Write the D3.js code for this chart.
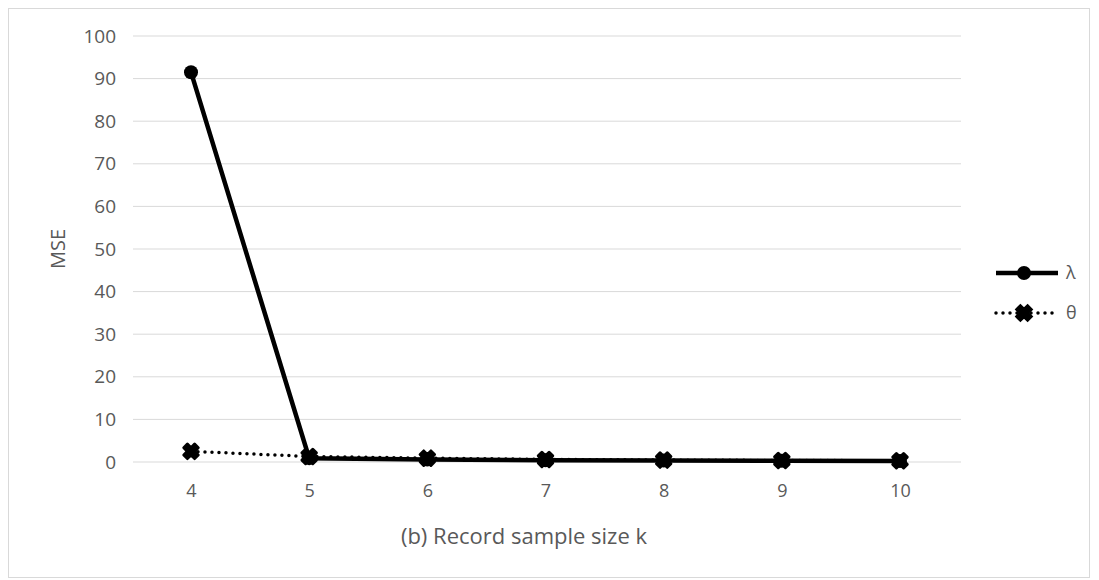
<!DOCTYPE html>
<html><head><meta charset="utf-8">
<script src="https://cdn.jsdelivr.net/npm/d3@7"></script>
<style>body{margin:0;background:#fff;font-family:"Open Sans","Liberation Sans",sans-serif;}</style>
</head><body>
<svg id="c" width="1099" height="580"></svg>
<script>
const categories = ["4","5","6","7","8","9","10"];
const lambdaValues = [91.5, 0.9, 0.6, 0.4, 0.35, 0.3, 0.25];
const thetaValues = [2.5, 1.3, 0.9, 0.6, 0.45, 0.35, 0.3];
const yTicks = [0,10,20,30,40,50,60,70,80,90,100];
const seriesNames = ["λ","θ"];

const svg = d3.select("#c");
svg.append("rect").attr("x",8.5).attr("y",8.5).attr("width",1081).attr("height",569)
  .attr("fill","#fff").attr("stroke","#d9d9d9");

const x = d3.scalePoint().domain(categories).range([191,900]);
const y = d3.scaleLinear().domain([0,100]).range([462,36]);
const txt = "#595959";
const ff = "Open Sans, Liberation Sans, sans-serif";

// gridlines
svg.append("g").selectAll("line").data(yTicks).join("line")
  .attr("x1",133).attr("x2",961).attr("y1",d=>y(d)).attr("y2",d=>y(d))
  .attr("stroke","#d9d9d9").attr("stroke-width",1);

// y axis labels
const ya = svg.append("g").attr("transform","translate(133,0)")
  .call(d3.axisLeft(y).tickValues(yTicks).tickSize(0).tickPadding(17));
ya.select(".domain").remove();
ya.selectAll("text").attr("fill",txt).style("font-size","19px").style("font-family",ff);

// x axis labels
const xa = svg.append("g").attr("transform","translate(0,462)")
  .call(d3.axisBottom(x).tickSize(0).tickPadding(22));
xa.select(".domain").remove();
xa.selectAll("text").attr("fill",txt).style("font-size","18px").style("font-family",ff);

// titles
svg.append("text").attr("x",524).attr("y",544).attr("text-anchor","middle")
  .attr("fill",txt).style("font-size","22px").text("(b) Record sample size k");
svg.append("text").attr("transform","translate(65,249) rotate(-90)").attr("text-anchor","middle")
  .attr("fill",txt).style("font-size","20px").text("MSE");

const line = d3.line().x((d,i)=>x(categories[i])).y(d=>y(d));
const thetaSym = d3.symbol().type(d3.symbolCross).size(130);

// theta series
svg.append("path").datum(thetaValues).attr("d",line).attr("fill","none")
  .attr("stroke","#000").attr("stroke-width",3.5).attr("stroke-linecap","round").attr("stroke-dasharray","0,7");
// lambda series
svg.append("path").datum(lambdaValues).attr("d",line).attr("fill","none")
  .attr("stroke","#000").attr("stroke-width",4.5);
svg.append("g").selectAll("path").data(thetaValues).join("path")
  .attr("d",thetaSym).attr("transform",(d,i)=>`translate(${x(categories[i])},${y(d)}) rotate(45)`)
  .attr("fill","#000").attr("stroke","#000").attr("stroke-width",3).attr("stroke-linejoin","round");
svg.append("g").selectAll("circle").data(lambdaValues).join("circle")
  .attr("cx",(d,i)=>x(categories[i])).attr("cy",d=>y(d)).attr("r",7).attr("fill","#000");

// legend
const lg = svg.append("g");
lg.append("line").attr("x1",996).attr("x2",1058).attr("y1",273).attr("y2",273).attr("stroke","#000").attr("stroke-width",4.5);
lg.append("circle").attr("cx",1024).attr("cy",273).attr("r",7).attr("fill","#000");
lg.append("text").attr("x",1066).attr("y",279).attr("fill",txt).style("font-size","18px").text(seriesNames[0]);
lg.append("line").attr("x1",996).attr("x2",1058).attr("y1",313).attr("y2",313).attr("stroke","#000").attr("stroke-width",3.5)
  .attr("stroke-linecap","round").attr("stroke-dasharray","0,7");
lg.append("path").attr("d",thetaSym).attr("transform","translate(1024,313) rotate(45)").attr("fill","#000").attr("stroke","#000").attr("stroke-width",3);
lg.append("text").attr("x",1066).attr("y",319).attr("fill",txt).style("font-size","18px").text(seriesNames[1]);
</script>
</body></html>
